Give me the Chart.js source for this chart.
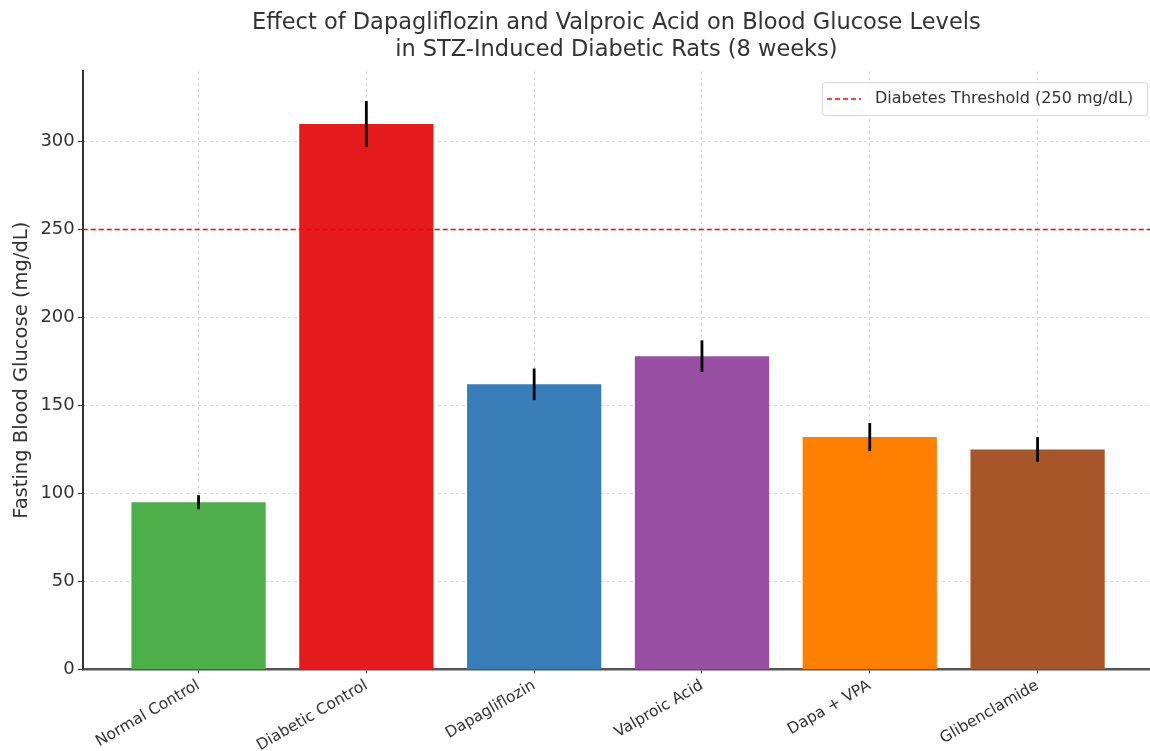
<!DOCTYPE html>
<html>
<head>
<meta charset="utf-8">
<script src="https://cdn.jsdelivr.net/npm/chart.js@4"></script>
<style>
  body { margin: 0; background: #fff; }
  #wrap { width: 1150px; height: 751px; }
</style>
</head>
<body>
<div id="wrap"><canvas id="chart"></canvas></div>
<script>
// groups and measured values (mg/dL)
const groups = ['Normal Control', 'Diabetic Control', 'Dapagliflozin', 'Valproic Acid', 'Dapa + VPA', 'Glibenclamide'];
const glucoseMean = [95, 310, 162, 178, 132, 125];
const glucoseSD = [4, 13, 9, 9, 8, 7];
const barColors = ['#4daf4a', '#e41a1c', '#377eb8', '#984ea3', '#ff7f00', '#a65628'];
const threshold = 250;
const thresholdLabel = 'Diabetes Threshold (250 mg/dL)';
const yTicks = [0, 50, 100, 150, 200, 250, 300];

const xMin = -0.69, xMax = 5.67;
const textColor = '#333';
const fontFamily = 'DejaVu Sans';

// error bars drawn on top, through the chart scales
const errorBars = {
  id: 'errorBars',
  afterDraw(chart) {
    const x = chart.scales.x, y = chart.scales.y, ctx = chart.ctx;
    ctx.save();
    ctx.strokeStyle = '#000';
    ctx.lineWidth = 2.8;
    glucoseMean.forEach((m, i) => {
      const px = x.getPixelForValue(i);
      ctx.beginPath();
      ctx.moveTo(px, y.getPixelForValue(m + glucoseSD[i]));
      ctx.lineTo(px, y.getPixelForValue(m - glucoseSD[i]));
      ctx.stroke();
    });
    ctx.restore();
  }
};

// matplotlib-like legend in the upper right corner of the plot
const cornerLegend = {
  id: 'cornerLegend',
  afterDraw(chart) {
    const a = chart.chartArea, ctx = chart.ctx;
    const w = 325, h = 33;
    const left = a.right - w - 3, top = a.top + 11;
    ctx.save();
    ctx.fillStyle = 'rgba(255,255,255,0.85)';
    ctx.strokeStyle = '#d6d6d6';
    ctx.lineWidth = 1;
    ctx.beginPath();
    ctx.roundRect(left + 0.5, top + 0.5, w, h, 3);
    ctx.fill();
    ctx.stroke();
    const cy = top + h / 2 + 0.5;
    ctx.strokeStyle = '#ff0000';
    ctx.lineWidth = 1.5;
    ctx.setLineDash([5, 3]);
    ctx.beginPath();
    ctx.moveTo(left + 5, cy);
    ctx.lineTo(left + 39, cy);
    ctx.stroke();
    ctx.setLineDash([]);
    ctx.fillStyle = textColor;
    ctx.font = '16px "' + fontFamily + '"';
    ctx.textBaseline = 'middle';
    ctx.fillText(thresholdLabel, left + 53, cy);
    ctx.restore();
  }
};

new Chart(document.getElementById('chart'), {
  type: 'bar',
  data: {
    datasets: [
      {
        label: 'Glucose',
        data: glucoseMean.map((v, i) => ({ x: i, y: v })),
        backgroundColor: barColors,
        barPercentage: 0.8,
        categoryPercentage: 1,
        order: 2
      },
      {
        type: 'line',
        label: thresholdLabel,
        data: [{ x: xMin, y: threshold }, { x: xMax, y: threshold }],
        borderColor: '#ff0000',
        borderWidth: 1.5,
        borderDash: [5, 3],
        pointRadius: 0,
        fill: false,
        order: 1
      }
    ]
  },
  options: {
    responsive: true,
    maintainAspectRatio: false,
    animation: false,
    layout: { padding: { top: 6, right: 0, left: 6, bottom: -7 } },
    plugins: {
      title: {
        display: true,
        fullSize: false,
        text: ['Effect of Dapagliflozin and Valproic Acid on Blood Glucose Levels', 'in STZ-Induced Diabetic Rats (8 weeks)'],
        color: textColor,
        font: { family: fontFamily, size: 22.5, weight: 'normal', lineHeight: 1.18 },
        padding: { top: 4, bottom: 8 }
      },
      legend: { display: false },
      tooltip: { enabled: false }
    },
    scales: {
      x: {
        type: 'linear',
        min: xMin,
        max: xMax,
        offset: false,
        z: 1,
        afterBuildTicks: (scale) => { scale.ticks = groups.map((_, i) => ({ value: i })); },
        ticks: {
          autoSkip: false,
          minRotation: 30,
          maxRotation: 30,
          padding: 3,
          color: textColor,
          font: { family: fontFamily, size: 15.5 },
          callback: (v) => groups[v]
        },
        grid: {
          offset: false,
          color: 'rgba(175,175,175,0.5)',
          tickColor: '#333',
          tickLength: 4,
          tickBorderDash: []
        },
        border: { display: true, color: '#555', width: 2.5, dash: [3, 3] }
      },
      y: {
        min: 0,
        max: 340,
        z: 1,
        afterBuildTicks: (scale) => { scale.ticks = yTicks.map((v) => ({ value: v })); },
        ticks: {
          color: textColor,
          font: { family: fontFamily, size: 18 }
        },
        grid: {
          color: 'rgba(175,175,175,0.5)',
          tickColor: '#333',
          tickLength: 5,
          tickBorderDash: []
        },
        border: { display: true, color: '#333', width: 2, dash: [3, 3] },
        title: {
          display: true,
          text: 'Fasting Blood Glucose (mg/dL)',
          color: textColor,
          font: { family: fontFamily, size: 19.5 },
          padding: { bottom: 4 }
        }
      }
    }
  },
  plugins: [errorBars, cornerLegend]
});
</script>
</body>
</html>
